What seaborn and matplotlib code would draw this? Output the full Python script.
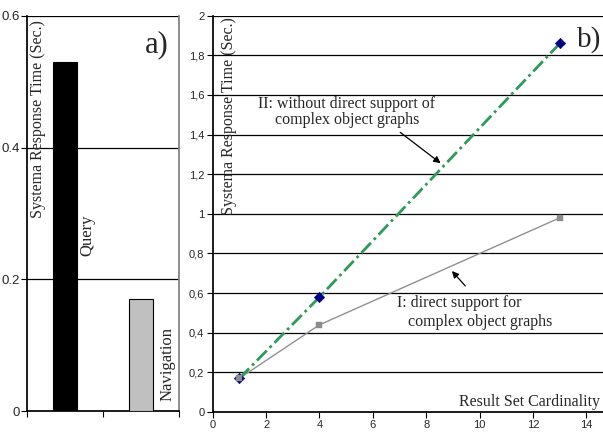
import pandas as pd
import matplotlib.pyplot as plt
import seaborn as sns

# data
bar_labels = ["Query", "Navigation"]
bar_times = [0.53, 0.17]

cardinality = [1, 4, 13]
time_without_support = [0.17, 0.58, 1.86]   # II
time_direct_support = [0.17, 0.44, 0.98]    # I

left_yticks = [0, 0.2, 0.4, 0.6]
left_yticklabels = ["0", "0.2", "0.4", "0.6"]
right_yticks = [0, 0.2, 0.4, 0.6, 0.8, 1.0, 1.2, 1.4, 1.6, 1.8, 2.0]
right_yticklabels = ["0", "0,2", "0,4", "0,6", "0,8", "1", "1,2", "1,4", "1,6", "1,8", "2"]
right_xticks = [0, 2, 4, 6, 8, 10, 12, 14]

sns.set_theme(style="white")
sans = ["Liberation Sans", "DejaVu Sans"]
serif = ["Liberation Serif", "DejaVu Serif"]

bars = pd.DataFrame({"op": bar_labels, "time": bar_times})
lines = pd.DataFrame({"n": cardinality, "II": time_without_support, "I": time_direct_support})

fig = plt.figure(figsize=(6.03, 4.38), dpi=100)
ax1 = fig.add_axes([27 / 603, 1 - 411 / 438, 152 / 603, 395 / 438])
ax2 = fig.add_axes([212.7 / 603, 1 - 412 / 438, 390.3 / 603, 396.3 / 438])

# ---- a) bar chart
sns.barplot(data=bars, x="op", y="time", hue="op", palette=["black", "#c0c0c0"],
            width=0.32, edgecolor="black", linewidth=0.8, legend=False, ax=ax1, zorder=3)
ax1.set_xlim(-0.5, 1.5)
ax1.set_ylim(0, 0.6)
ax1.set_xticks([-0.5, 0.5, 1.5])
ax1.set_xticklabels([])
ax1.set_yticks(left_yticks)
ax1.set_yticklabels(left_yticklabels, family=sans, fontsize=9.5)
for v in left_yticks[1:]:
    ax1.axhline(v, color="black", lw=0.9, zorder=1)
ax1.set_xlabel("")
ax1.set_ylabel("")
ax1.spines["top"].set_visible(False)
ax1.spines["right"].set_color("#808080")
ax1.spines["left"].set_color("black")
ax1.spines["bottom"].set_color("black")
ax1.tick_params(axis="both", direction="out", length=4, width=0.8, color="black",
                bottom=True, left=True, pad=1)
ax1.text(0.075, 0.99, "Systema Response Time (Sec.)", transform=ax1.transAxes,
         rotation=90, ha="center", va="top", family=serif, fontsize=11.5)
ax1.text(0.30, 0.267, "Query", rotation=90, ha="center", va="center", family=serif, fontsize=12)
ax1.text(1.355, 0.0714, "Navigation", rotation=90, ha="center", va="center", family=serif, fontsize=12)
ax1.text(1.21, 0.556, "a)", ha="center", va="center", family=serif, fontsize=22)

# ---- b) line chart
sns.lineplot(data=lines, x="n", y="I", color="#909090", lw=1, ax=ax2, zorder=3)
sns.lineplot(data=lines, x="n", y="II", color="#2e9a5a", lw=2,
             linestyle=(0, (5, 1.5, 1, 1.5)), ax=ax2, zorder=4)
sns.scatterplot(data=lines, x="n", y="II", marker="D", color="#000080", s=28,
                edgecolor="#000080", ax=ax2, zorder=5)
sns.scatterplot(data=lines, x="n", y="I", marker="s", color="#8c8c8c", s=14,
                edgecolor="#8c8c8c", ax=ax2, zorder=6)
ax2.set_xlim(0, 14.62)
ax2.set_ylim(0, 2)
ax2.set_xticks(right_xticks)
ax2.set_xticklabels([str(t) for t in right_xticks], family=sans, fontsize=8)
ax2.set_yticks(right_yticks)
ax2.set_yticklabels(right_yticklabels, family=sans, fontsize=8)
for v in right_yticks[1:]:
    ax2.axhline(v, color="black", lw=0.9, zorder=1)
ax2.set_xlabel("")
ax2.set_ylabel("")
ax2.spines["top"].set_visible(False)
ax2.spines["right"].set_visible(False)
ax2.spines["left"].set_color("black")
ax2.spines["bottom"].set_color("black")
ax2.tick_params(axis="both", direction="out", length=4, width=0.8, color="black",
                bottom=True, left=True, pad=2)
ax2.text(0.042, 0.997, "Systema Response Time (Sec.)", transform=ax2.transAxes,
         rotation=90, ha="center", va="top", family=serif, fontsize=11.5)
ax2.text(14.57, 1.88, "b)", ha="right", va="center", family=serif, fontsize=21)
ax2.text(14.52, 0.05, "Result Set Cardinality", ha="right", va="center", family=serif, fontsize=11.5)

ax2.annotate("", xy=(8.62, 1.247), xytext=(6.94, 1.42),
             arrowprops=dict(arrowstyle="-|>", color="black", lw=0.9, mutation_scale=10))
ax2.text(5.03, 1.515, "II: without direct support of\ncomplex object graphs",
         ha="center", va="center", family=serif, fontsize=11.5, linespacing=1.05)
ax2.annotate("", xy=(8.89, 0.722), xytext=(9.53, 0.626),
             arrowprops=dict(arrowstyle="-|>", color="black", lw=0.9, mutation_scale=10))
ax2.text(6.9, 0.55, "I: direct support for", ha="left", va="center", family=serif, fontsize=11.5)
ax2.text(7.31, 0.455, "complex object graphs", ha="left", va="center", family=serif, fontsize=11.5)

fig.savefig("out.png", dpi=100)
